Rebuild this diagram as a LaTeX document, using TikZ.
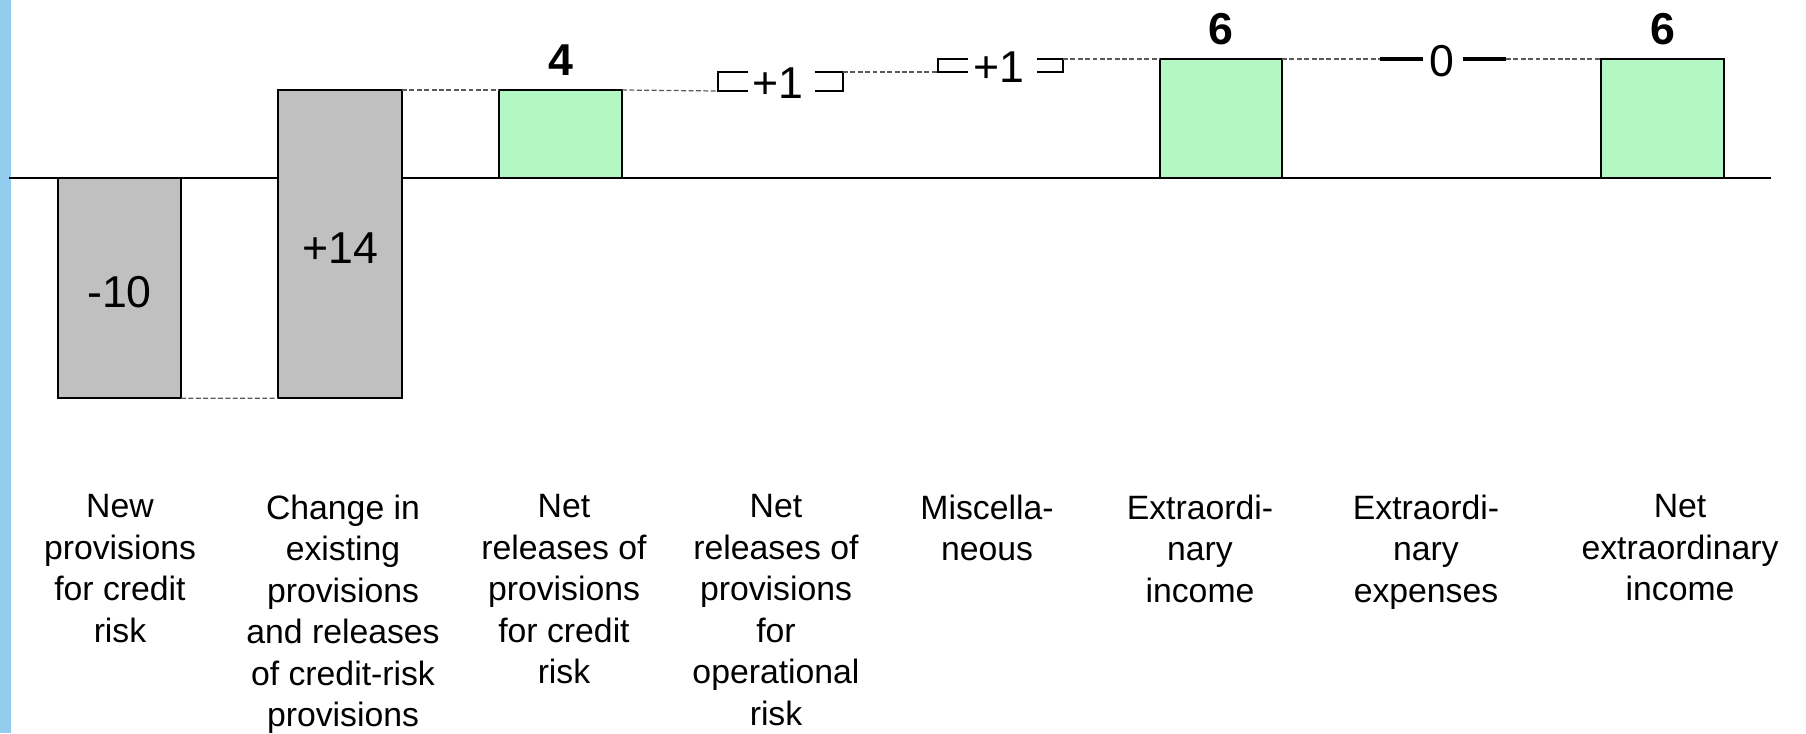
\documentclass[tikz,border=0pt]{standalone}
\usepackage{fontspec}
\setmainfont{Liberation Sans}
\usetikzlibrary{positioning}
\definecolor{barGrey}{HTML}{C0C0C0}
\definecolor{barGreen}{HTML}{B3F8C4}
\definecolor{linkGrey}{HTML}{5A5A5A}
\definecolor{sideBlue}{HTML}{92CDF0}
\tikzset{
  bar/.style={draw, line width=0.6pt, inner sep=0pt, outer sep=0pt, anchor=north west,
    minimum width=1.23cm, font=\fontsize{12.7}{15}\selectfont},
  lossbar/.style={bar, fill=barGrey, text height=10.8pt, text depth=0pt},
  gainbar/.style={bar, fill=barGreen},
  link/.style={draw=linkGrey, line width=0.35pt, dash pattern=on 1.4pt off 0.7pt},
  brk/.style={line width=0.6pt},
  delta/.style={inner sep=0pt, font=\fontsize{12.7}{15}\selectfont},
  total/.style={inner sep=0pt, font=\bfseries\fontsize{12.7}{15}\selectfont},
  cat/.style={align=center, anchor=north, inner sep=0pt, execute at begin node=\strut,
    font=\fontsize{9.6}{11.8}\selectfont}
}

\begin{document}
\begin{tikzpicture}[x=0.01cm, y=-0.01cm]
    \useasboundingbox (0,0) rectangle (1806,733);
    \fill[sideBlue] (0,0) rectangle (11,733);
    \draw[line width=0.6pt] (9,178) -- (1771,178);

    \node[lossbar, minimum height=2.2cm] (newprov) at (58,178) {-10};
    \node[lossbar, minimum height=3.08cm, minimum width=1.24cm] (chgprov) at (278,90) {+14};
    \node[gainbar, minimum height=0.88cm] (netcredit) at (499,90) {};
    \node[gainbar, minimum height=1.19cm, minimum width=1.22cm] (extrainc) at (1160,59) {};
    \node[gainbar, minimum height=1.19cm] (netextra) at (1601,59) {};

    \node[total, above=0.14cm of netcredit] (tot4) {4};
    \node[total, above=0.13cm of extrainc] (tot6a) {6};
    \node[total, above=0.13cm of netextra] (tot6b) {6};

    \node[delta] (oprisk) at (778,83) {+1};
    \node[delta] (misc) at (999,67) {+1};
    \node[delta] (extraexp) at (1442,61) {0};

    \draw[brk] (748,72) -| (718,91) -- +(30,0);
    \draw[brk] (815,72) -| (843,91) -- +(-28,0);
    \draw[brk] (968,59) -| (938,72) -- +(30,0);
    \draw[brk] (1037,59) -| (1063,72) -- +(-26,0);
    \draw[line width=1.1pt] (1380,59) -- (1423,59);
    \draw[line width=1.1pt] (1463,59) -- (1506,59);

    \coordinate (oprin) at (718,91);
    \coordinate (oprout) at (843,72);
    \coordinate (miscin) at (938,72);
    \coordinate (miscout) at (1063,59);
    \coordinate (zeroin) at (1380,59);
    \coordinate (zeroout) at (1506,59);

    \draw[link] (newprov.south east) -- (chgprov.south west);
    \draw[link] (chgprov.north east) -- (netcredit.north west);
    \draw[link] (netcredit.north east) -- (oprin);
    \draw[link] (oprout) -- (miscin);
    \draw[link] (miscout) -- (extrainc.north west);
    \draw[link] (extrainc.north east) -- (zeroin);
    \draw[link] (zeroout) -- (netextra.north west);

    \node[cat] (cat1) at (120,494) {New\\provisions\\for credit\\risk};
    \node[cat] (cat2) at (343,494) {Change in\\existing\\provisions\\and releases\\of credit-risk\\provisions};
    \node[cat] (cat3) at (564,494) {Net\\releases of\\provisions\\for credit\\risk};
    \node[cat] (cat4) at (776,494) {Net\\releases of\\provisions\\for\\operational\\risk};
    \node[cat] (cat5) at (987,494) {Miscella-\\neous};
    \node[cat] (cat6) at (1200,494) {Extraordi-\\nary\\income};
    \node[cat] (cat7) at (1426,494) {Extraordi-\\nary\\expenses};
    \node[cat] (cat8) at (1680,494) {Net\\extraordinary\\income};
\end{tikzpicture}
\end{document}
